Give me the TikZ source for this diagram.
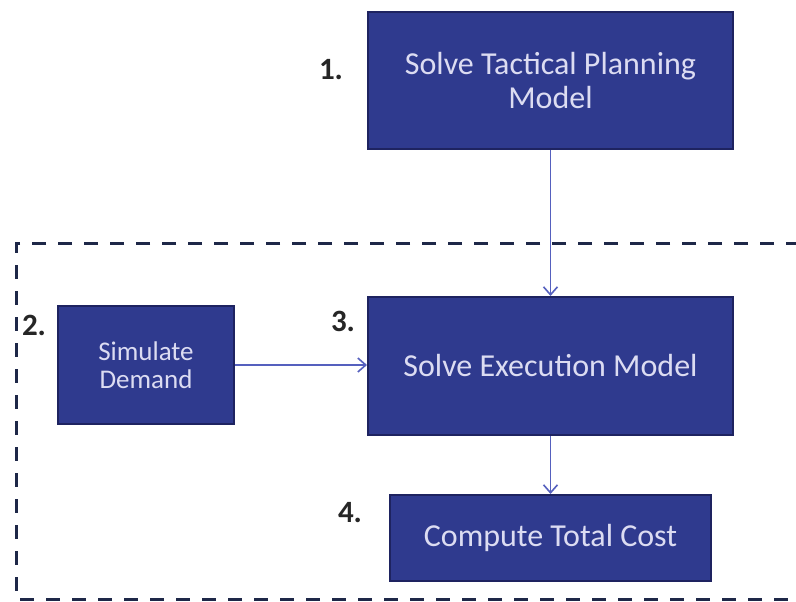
\documentclass[tikz,border=0pt]{standalone}
\usepackage{fontspec}
\setmainfont{Carlito}
\usetikzlibrary{arrows.meta}
\definecolor{boxfill}{HTML}{2F3A8E}
\definecolor{boxline}{HTML}{1E2360}
\definecolor{boxtext}{HTML}{DCDCF2}
\definecolor{arrowcol}{HTML}{5560BE}
\definecolor{dashcol}{HTML}{1E2848}
\tikzset{
  procbox/.style={draw=boxline, line width=2pt, fill=boxfill, text=boxtext,
    align=center, inner sep=0pt, anchor=north west},
  numlabel/.style={font=\fontsize{31}{34}\selectfont\bfseries, text=black!85, inner sep=0pt},
  flow/.style={draw=arrowcol, line width=1.8pt, -{Straight Barb[length=8pt,width=14pt,line width=1.6pt]}},
}
\begin{document}
\begin{tikzpicture}[x=1pt,y=-1pt]
\useasboundingbox (0,0) rectangle (796,602);
\fill[white] (0,0) rectangle (796,602);
\begin{scope}
\clip (0,0) rectangle (796,602);
\draw[dashcol, line width=3pt, dash pattern=on 14pt off 12pt]
  (800,243) -- (16,243) -- (16,599) -- (800,599);
\end{scope}
\node[procbox, minimum width=365pt, minimum height=137pt, font=\fontsize{32}{34}\selectfont] (b1) at (367,11) {Solve Tactical Planning\\Model};
\node[procbox, minimum width=176pt, minimum height=118pt, font=\fontsize{27}{28}\selectfont] (b2) at (57,305) {Simulate\\Demand};
\node[procbox, minimum width=365pt, minimum height=138pt, font=\fontsize{32}{34}\selectfont] (b3) at (367,296) {Solve Execution Model};
\node[procbox, minimum width=321pt, minimum height=86pt, font=\fontsize{32}{34}\selectfont] (b4) at (389,494) {Compute Total Cost};
\node[numlabel] (n1) at (331,70) {1.};
\node[numlabel] (n2) at (34,325) {2.};
\node[numlabel] (n3) at (343,321) {3.};
\node[numlabel] (n4) at (350,513) {4.};
\draw[flow] (b1.south) -- (b3.north);
\draw[flow] (b2.east) -- (b3.west |- b2.east);
\draw[flow] (b3.south) -- (b4.north);
\end{tikzpicture}
\end{document}
